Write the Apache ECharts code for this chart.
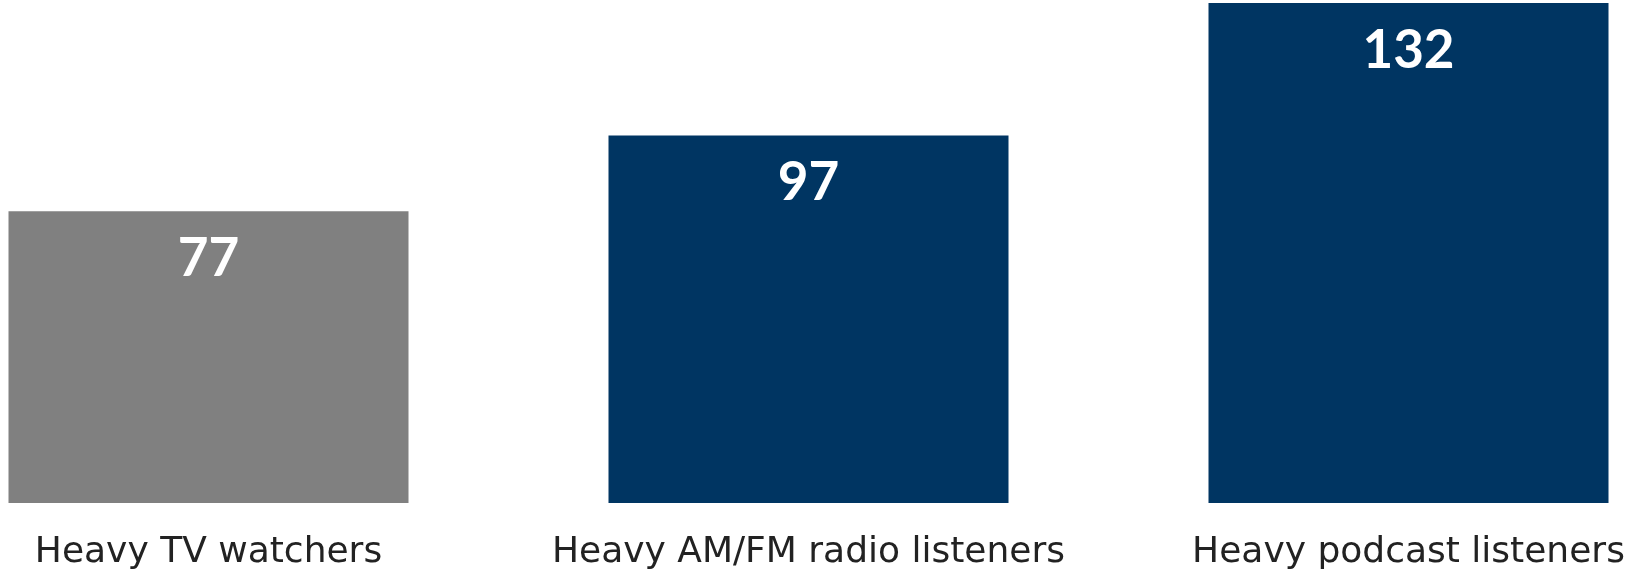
<!DOCTYPE html>
<html>
<head>
<meta charset="utf-8">
<style>html,body{margin:0;padding:0;background:#fff;}#c{width:1630px;height:572px;}</style>
<script src="https://cdn.jsdelivr.net/npm/echarts@6/dist/echarts.min.js"></script>
</head>
<body>
<div id="c"></div>
<script>
const categories = ['Heavy TV watchers', 'Heavy AM/FM radio listeners', 'Heavy podcast listeners'];
const values = [77, 97, 132];
const barColors = ['#808080', '#003562', '#003562'];

const chart = echarts.init(document.getElementById('c'));
chart.setOption({
  animation: false,
  grid: { left: -91.5, width: 1800, top: 0, bottom: 69, containLabel: false, outerBoundsMode: 'none' },
  xAxis: {
    type: 'category',
    data: categories,
    axisLine: { show: false },
    axisTick: { show: false },
    axisLabel: { color: '#222', fontFamily: 'DejaVu Sans', fontSize: 36, margin: 32, interval: 0 }
  },
  yAxis: {
    type: 'value', min: 0, max: 132.8,
    show: false, splitLine: { show: false }
  },
  series: [{
    type: 'bar',
    barWidth: 400,
    data: values.map((v, i) => ({ value: v, itemStyle: { color: barColors[i] } })),
    label: {
      show: true, position: 'insideTop', distance: 21,
      color: '#fff', fontFamily: 'Lato', fontWeight: 'bold', fontSize: 53
    }
  }]
});
</script>
</body>
</html>
